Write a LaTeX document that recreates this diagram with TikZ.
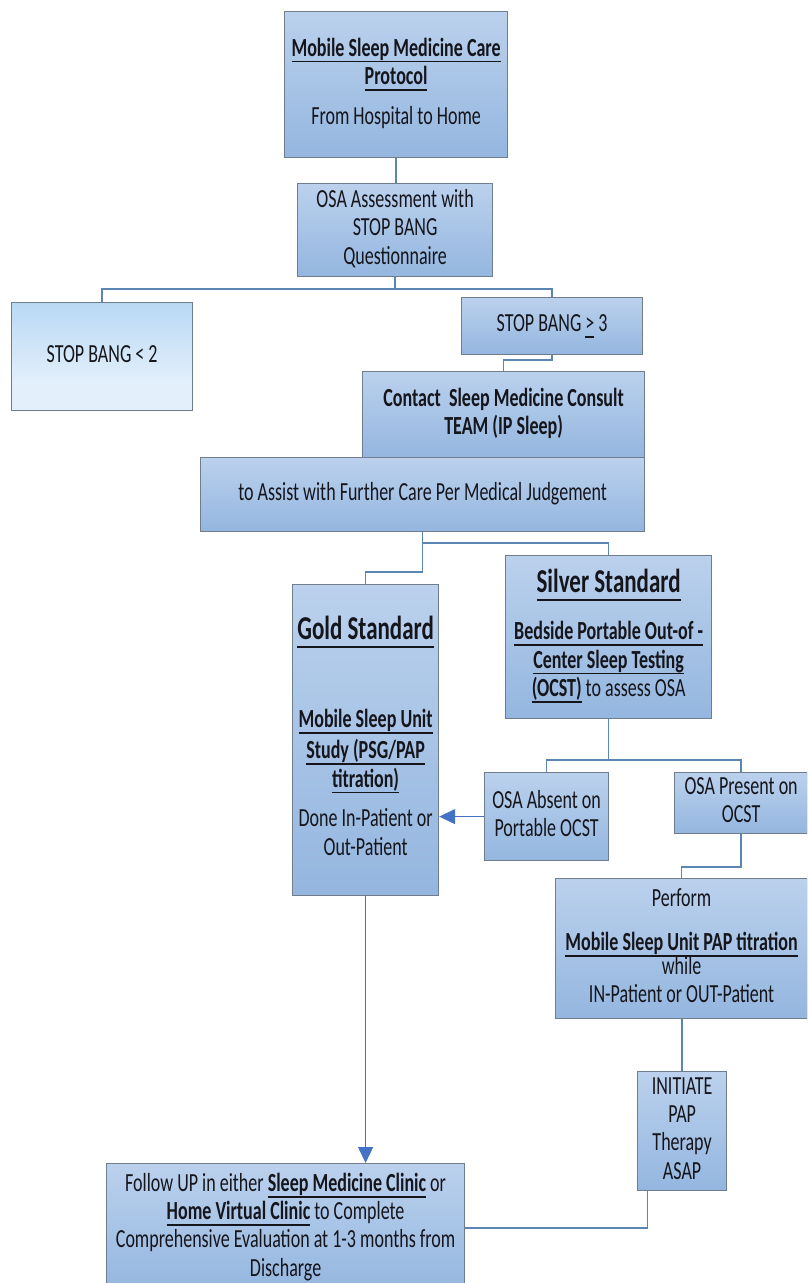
\documentclass[tikz,border=0pt]{standalone}
\usepackage{fontspec}
\setmainfont{Carlito}
\usepackage{graphicx}
\usetikzlibrary{arrows.meta}
\definecolor{boxtop}{HTML}{BBD1ED}
\definecolor{boxbot}{HTML}{94B6DF}
\definecolor{boxline}{HTML}{6F7D8D}
\definecolor{conn}{HTML}{5B86B4}
\definecolor{arr}{HTML}{4472C4}
\definecolor{txt}{HTML}{15151C}
\definecolor{lbtop}{HTML}{A9CFEE}
\definecolor{lbgreen}{HTML}{B6DDE6}
\definecolor{lbmid}{HTML}{B9D9F4}
\definecolor{lbbot}{HTML}{E3EFFB}
\pgfdeclareverticalshading{sbshade}{100bp}{color(0bp)=(lbbot); color(25bp)=(lbbot); color(62bp)=(lbmid); color(68bp)=(lbgreen); color(72bp)=(lbtop); color(75bp)=(lbtop)}
\newcommand{\vt}[1]{\scalebox{1}[1.45]{\begin{tabular}{@{}c@{}}#1\end{tabular}}}
\newcommand{\myul}[1]{\setbox0\hbox{#1}\rlap{\rule[-0.24em]{\wd0}{0.065em}}\box0\relax}
\newcommand{\bu}[1]{\textbf{\myul{#1}}}
\newcommand{\bigf}{\fontsize{23}{24}\selectfont}
\tikzset{
  flowbox/.style={draw=boxline, line width=1.2pt, top color=boxtop, bottom color=boxbot,
    inner sep=0pt, anchor=north west, text=txt, font=\fontsize{18}{19.5}\selectfont},
  lightbox/.style={draw=boxline, line width=1.2pt, shading=sbshade,
    inner sep=0pt, anchor=north west, text=txt, font=\fontsize{18}{19.5}\selectfont},
  link/.style={draw=conn, line width=1.6pt},
  arrowlink/.style={draw=arr, line width=1.4pt, -{Triangle[length=16pt,width=15pt]}},
}
\begin{document}
\begin{tikzpicture}[x=1pt,y=-1pt]
\useasboundingbox (0,0) rectangle (807,1283);
\clip (0,0) rectangle (807,1283);
% boxes
\node[flowbox, minimum width=223pt, minimum height=146pt] (t1) at (284,11)
  {\vt{\bu{Mobile Sleep Medicine Care}\\ \bu{Protocol}\\[8pt] From Hospital to Home}};
\node[flowbox, minimum width=195pt, minimum height=93pt] (osa) at (297,183)
  {\vt{OSA Assessment with\\ STOP BANG\\ Questionnaire}};
\node[lightbox, minimum width=181pt, minimum height=108pt] (sb2) at (11,302)
  {\vt{STOP BANG < 2}};
\node[flowbox, minimum width=181pt, minimum height=57pt] (sb3) at (461,297)
  {\vt{STOP BANG \myul{>} 3}};
\node[flowbox, minimum width=282pt, minimum height=86pt] (contact) at (362,371)
  {\vt{\textbf{Contact\ \ Sleep Medicine Consult}\\ \textbf{TEAM (IP Sleep)}}};
\node[flowbox, minimum width=444pt, minimum height=74pt] (assist) at (200,457)
  {\vt{to Assist with Further Care Per Medical Judgement}};
\node[flowbox, minimum width=206pt, minimum height=163pt] (silver) at (505,555)
  {\vt{{\bigf\bu{Silver Standard}}\\[13pt] \bu{Bedside Portable Out-of -}\\ \bu{Center Sleep Testing}\\ \bu{(OCST)} to assess OSA}};
\node[flowbox, minimum width=146pt, minimum height=311pt] (gold) at (292,584)
  {\vt{{\bigf\bu{Gold Standard}}\\[41pt] \bu{Mobile Sleep Unit}\\[2pt] \bu{Study (PSG/PAP}\\ \bu{titration)}\\[8pt] Done In-Patient or\\ Out-Patient}};
\node[flowbox, minimum width=124pt, minimum height=88pt] (absent) at (484,772)
  {\vt{OSA Absent on\\ Portable OCST}};
\node[flowbox, minimum width=133pt, minimum height=61pt] (present) at (674,772)
  {\vt{OSA Present on\\ OCST}};
\node[flowbox, minimum width=252pt, minimum height=140pt] (perform) at (555,878)
  {\vt{Perform\\[11pt] \bu{Mobile Sleep Unit PAP titration}\\[-3pt] while\\ IN-Patient or OUT-Patient}};
\node[flowbox, minimum width=89pt, minimum height=119pt] (initiate) at (637,1071)
  {\vt{INITIATE\\ PAP\\ Therapy\\ ASAP}};
\node[flowbox, minimum width=358pt, minimum height=129pt] (follow) at (106,1163)
  {\vt{Follow UP in either \bu{Sleep Medicine Clinic} or\\ \bu{Home Virtual Clinic} to Complete\\ Comprehensive Evaluation at 1-3 months from\\ Discharge}};
% junction heights
\coordinate (j1) at (0,289);
\coordinate (j2) at (0,360);
\coordinate (j3) at (0,543);
\coordinate (j4) at (0,572);
\coordinate (j5) at (0,760);
\coordinate (j6) at (0,867);
% connectors
\draw[link] (t1.south) -- (t1.south |- osa.north);
\draw[link] (osa.south) -- (osa.south |- j1) -| (sb2.north);
\draw[link] (osa.south |- j1) -| (sb3.north);
\draw[link] (sb3.south) -- (sb3.south |- j2) -| (contact.north);
\draw[link] (assist.south) -- (assist.south |- j4) -| (gold.north);
\draw[link] (assist.south |- j3) -| (silver.north);
\draw[link] (silver.south) -- (silver.south |- j5) -| (absent.north);
\draw[link] (silver.south |- j5) -| (present.north);
\draw[link] (present.south) -- (present.south |- j6) -| (perform.north);
\draw[link] (initiate.north |- perform.south) -- (initiate.north);
\draw[link] ([xshift=-34.5pt]initiate.south) |- (follow.east);
\draw[arrowlink] (absent.west) -- (absent.west -| gold.east);
\draw[arrowlink] (gold.south) -- (gold.south |- follow.north);
\end{tikzpicture}
\end{document}
